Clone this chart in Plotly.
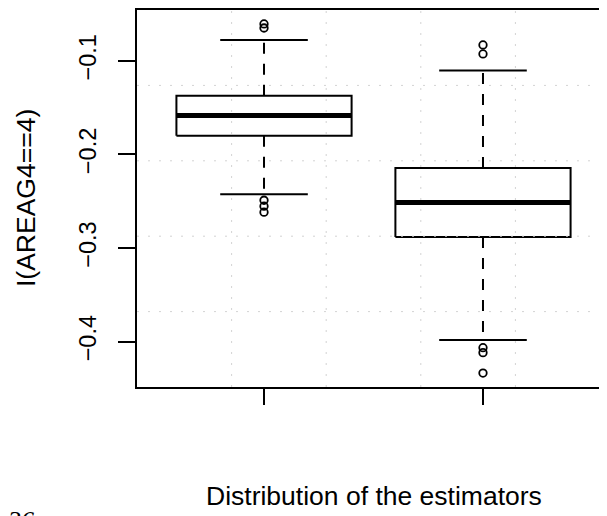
import plotly.graph_objects as go

# ---- data ----
positions = [1, 2]
q1 = [-0.1801, -0.2883]
median = [-0.1585, -0.2514]
q3 = [-0.1372, -0.2146]
whisker_low = [-0.2426, -0.3982]
whisker_high = [-0.0777, -0.1103]
outliers = [
    [-0.0606, -0.0649, -0.2489, -0.2553, -0.2617],
    [-0.0830, -0.0926, -0.4064, -0.4117, -0.4335],
]
y_ticks = [-0.4, -0.3, -0.2, -0.1]
y_tick_labels = ["\u22120.4", "\u22120.3", "\u22120.2", "\u22120.1"]
y_title = "I(AREAG4==4)"
x_title = "Distribution of the estimators"
corner_text = "36"

# ---- R-like axis ranges (4% extension) ----
all_vals = [v for o in outliers for v in o] + whisker_low + whisker_high
ymin, ymax = min(all_vals), max(all_vals)
ext = 0.04 * (ymax - ymin)
y_range = [ymin - ext, ymax + ext]
x_full = [0.5 - 0.08, len(positions) + 0.5 + 0.08]

# page has an 8px body margin; lay out the figure so the plot lands where the reference has it
OFF = 8
PAGE_W, PAGE_H = 607, 516
W, H = PAGE_W - OFF, PAGE_H - OFF
PLOT_L, PLOT_T, PLOT_B = 137, 8, 387          # page pixels of the plot box
ML, MT = PLOT_L - OFF, PLOT_T - OFF
MB = H - (PLOT_B - OFF)
plot_w = W - ML
plot_h = H - MT - MB
full_w = 473.0
x_range = [x_full[0], x_full[0] + (x_full[1] - x_full[0]) * plot_w / full_w]


def px_x(page_x):
    return (page_x - PLOT_L) / plot_w


def px_y(page_y):
    return (PLOT_B - page_y) / plot_h


BOX_HW = 0.4
CAP_HW = 0.2

fig = go.Figure()

for i, p in enumerate(positions):
    fig.add_trace(go.Scatter(x=[p, p], y=[q3[i], whisker_high[i]], mode="lines",
                             line=dict(color="black", width=2, dash="11px,10px"),
                             showlegend=False, hoverinfo="skip"))
    fig.add_trace(go.Scatter(x=[p, p], y=[q1[i], whisker_low[i]], mode="lines",
                             line=dict(color="black", width=2, dash="11px,10px"),
                             showlegend=False, hoverinfo="skip"))
    for w in (whisker_high[i], whisker_low[i]):
        fig.add_trace(go.Scatter(x=[p - CAP_HW, p + CAP_HW], y=[w, w], mode="lines",
                                 line=dict(color="black", width=2),
                                 showlegend=False, hoverinfo="skip"))
    fig.add_trace(go.Scatter(
        x=[p - BOX_HW, p + BOX_HW, p + BOX_HW, p - BOX_HW, p - BOX_HW],
        y=[q1[i], q1[i], q3[i], q3[i], q1[i]], mode="lines",
        line=dict(color="black", width=2), showlegend=False, hoverinfo="skip"))
    fig.add_trace(go.Scatter(x=[p - BOX_HW, p + BOX_HW], y=[median[i], median[i]],
                             mode="lines", line=dict(color="black", width=5),
                             showlegend=False, hoverinfo="skip"))
    fig.add_trace(go.Scatter(x=[p] * len(outliers[i]), y=outliers[i], mode="markers",
                             marker=dict(symbol="circle-open", size=7.5, color="black",
                                         line=dict(width=1.8, color="black")),
                             showlegend=False, hoverinfo="skip"))

# grid (R grid(5,5): equal divisions of the full plot region), drawn on top
n = 5
for k in range(1, n):
    gy = y_range[0] + (y_range[1] - y_range[0]) * k / n
    fig.add_trace(go.Scatter(x=x_range, y=[gy, gy], mode="lines",
                             line=dict(color="#d3d3d3", width=1, dash="2px,9px"),
                             showlegend=False, hoverinfo="skip"))
    gx = x_full[0] + (x_full[1] - x_full[0]) * k / n
    fig.add_trace(go.Scatter(x=[gx, gx], y=y_range, mode="lines",
                             line=dict(color="#d3d3d3", width=1, dash="2px,9px"),
                             showlegend=False, hoverinfo="skip"))

font_main = "Liberation Sans, Arial, Helvetica, sans-serif"

fig.update_layout(
    width=W, height=H,
    margin=dict(l=ML, r=0, t=MT, b=MB, pad=0),
    paper_bgcolor="white", plot_bgcolor="white",
    font=dict(family=font_main, color="black"),
    xaxis=dict(range=x_range, showgrid=False, zeroline=False,
               showline=True, linecolor="black", linewidth=2, mirror=True,
               tickmode="array", tickvals=positions, ticks="outside",
               ticklen=16, tickwidth=2, tickcolor="black", showticklabels=False),
    yaxis=dict(range=y_range, showgrid=False, zeroline=False,
               showline=True, linecolor="black", linewidth=2, mirror=False,
               tickmode="array", tickvals=y_ticks, ticktext=y_tick_labels,
               ticks="outside", ticklen=17, tickwidth=2, tickcolor="black",
               tickangle=-90, tickfont=dict(size=23.5, family=font_main),
               ticklabelstandoff=13),
    annotations=[
        dict(text=y_title, xref="paper", yref="paper",
             x=px_x(26), y=px_y(197), xanchor="center", yanchor="middle",
             textangle=-90, showarrow=False, font=dict(size=26.5, family=font_main)),
        dict(text=x_title, xref="x", yref="paper",
             x=sum(positions) / len(positions), y=px_y(497),
             xanchor="center", yanchor="middle",
             showarrow=False, font=dict(size=26.5, family=font_main)),
        dict(text=corner_text, xref="paper", yref="paper",
             x=px_x(5), y=px_y(505),
             xanchor="left", yanchor="top", showarrow=False,
             font=dict(size=26, family="Liberation Serif, serif", style="italic")),
    ],
)

fig.write_html("out.html")
